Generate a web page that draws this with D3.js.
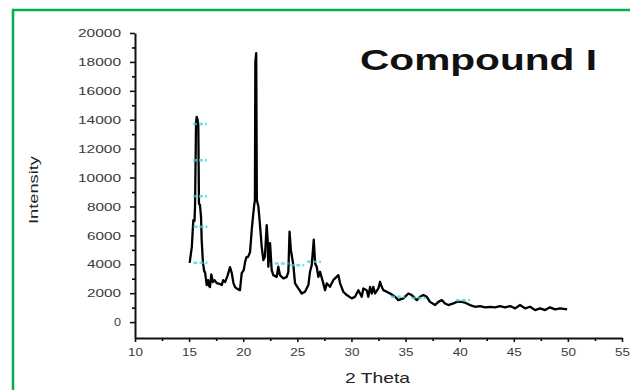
<!DOCTYPE html>
<html>
<head>
<meta charset="utf-8">
<script src="https://cdn.jsdelivr.net/npm/d3@7"></script>
<style>
  html, body { margin: 0; padding: 0; background: #fff; }
  svg { display: block; }
</style>
</head>
<body>
<figure id="xrd" style="margin:0"></figure>
<script>
// XRD pattern
const theta = [15.05, 15.25, 15.39, 15.5, 15.55, 15.64, 15.7, 15.78, 15.85, 15.91, 16.0, 16.1, 16.16, 16.28, 16.4, 16.47, 16.63, 16.75, 16.85, 16.93,
  17.05, 17.2, 17.35, 17.55, 17.8, 18.01, 18.15, 18.32, 18.55, 18.78, 18.94, 19.1, 19.24, 19.45, 19.7, 19.86, 20.05, 20.17, 20.3, 20.44,
  20.63, 20.8, 20.9, 21.0, 21.08, 21.12, 21.2, 21.26, 21.4, 21.55, 21.71, 21.86, 22.0, 22.17, 22.26, 22.32, 22.48, 22.63, 22.78, 23.1,
  23.24, 23.4, 23.71, 24.02, 24.17, 24.28, 24.4, 24.48, 24.63, 24.79, 25.09, 25.41, 25.71, 26.02, 26.17, 26.33, 26.52, 26.64, 26.79, 26.94,
  27.1, 27.4, 27.56, 27.72, 28.02, 28.33, 28.48, 28.79, 28.95, 29.25, 29.57, 30.03, 30.33, 30.64, 30.95, 31.1, 31.41, 31.56, 31.72, 31.88,
  32.02, 32.18, 32.49, 32.64, 32.8, 32.95, 33.26, 33.57, 34.03, 34.33, 34.8, 35.26, 35.57, 36.04, 36.34, 36.65, 36.96, 37.26, 37.73, 38.03,
  38.35, 38.65, 38.96, 39.42, 39.73, 40.19, 40.5, 40.96, 41.42, 41.89, 42.35, 42.81, 43.27, 43.73, 44.2, 44.66, 45.12, 45.58, 46.04, 46.51,
  46.97, 47.43, 47.89, 48.35, 48.81, 49.28, 49.93];
const intensity = [4100, 5200, 7060, 7000, 8100, 13800, 14200, 14000, 13600, 8200, 8100, 7300, 5700, 4100, 3500, 3460, 2560, 2900, 2500, 2420,
  3300, 2770, 2900, 2700, 2650, 2560, 2900, 2770, 3200, 3800, 3390, 2700, 2420, 2300, 2210, 3390, 3600, 4150, 4500, 4500,
  4840, 6500, 7270, 8000, 8440, 18000, 18600, 8440, 8000, 6710, 5210, 4290, 4500, 6710, 5670, 3830, 5470, 3600, 3250, 3130,
  3830, 3250, 3020, 3130, 3480, 6250, 5000, 4640, 3940, 2680, 2330, 1980, 2100, 2560, 3480, 3940, 5700, 4060, 3830, 3130,
  3480, 2680, 2210, 2680, 2440, 2910, 3020, 3250, 2680, 2100, 1870, 1640, 1750, 2210, 1750, 2330, 2210, 1750, 2440, 1980,
  2440, 1980, 2330, 2790, 2440, 2210, 2100, 1980, 1750, 1520, 1640, 1980, 1870, 1520, 1750, 1870, 1750, 1400, 1180, 1400,
  1520, 1290, 1180, 1290, 1400, 1400, 1340, 1180, 1060, 1110, 1020, 1060, 1020, 1110, 1020, 1110, 950, 1180, 950, 1060,
  830, 950, 830, 1020, 880, 950, 880];

// faint cyan marks sitting on the pattern
const markTheta = [16.0, 16.0, 16.0, 16.05, 16.05, 23.56, 25.0, 26.55, 34.3, 36.2, 40.3];
const markIntensity = [13700, 11200, 8700, 6600, 4100, 4060, 3940, 4170, 1750, 1660, 1520];

const xTicks = [10, 15, 20, 25, 30, 35, 40, 45, 50, 55];
const yTicks = [0, 2000, 4000, 6000, 8000, 10000, 12000, 14000, 16000, 18000, 20000];

const width = 630, height = 390;

const svg = d3.select('figure#xrd')
  .append('svg')
  .attr('width', width)
  .attr('height', height);

svg.append('rect').attr('width', width).attr('height', height).attr('fill', '#fff');

// green frame (only left and top show)
svg.append('path')
  .attr('d', 'M13,390 V10 H630')
  .attr('fill', 'none')
  .attr('stroke', '#00b050')
  .attr('stroke-width', 2.5);

const x = d3.scaleLinear().domain([10, 55]).range([135, 622]);
const y = d3.scaleLinear().domain([-1100, 20000]).range([338, 33]);

// minor ticks first
svg.append('g')
  .attr('transform', 'translate(0,338)')
  .call(d3.axisBottom(x).tickValues(d3.range(12.5, 55, 5)).tickSize(3).tickFormat(''))
  .call(g => g.select('.domain').remove())
  .selectAll('line').attr('stroke-width', 1.6);
svg.append('g')
  .attr('transform', 'translate(135,0)')
  .call(d3.axisLeft(y).tickValues(d3.range(1000, 20000, 2000)).tickSize(3).tickFormat(''))
  .call(g => g.select('.domain').remove())
  .selectAll('line').attr('stroke-width', 1.6);

const xAxis = svg.append('g')
  .attr('transform', 'translate(0,338)')
  .call(d3.axisBottom(x).tickValues(xTicks).tickSize(4).tickSizeOuter(0).tickPadding(6));
const yAxis = svg.append('g')
  .attr('transform', 'translate(135,0)')
  .call(d3.axisLeft(y).tickValues(yTicks).tickSize(5).tickSizeOuter(0).tickPadding(9).tickFormat(d3.format('d')));

[xAxis, yAxis].forEach(g => {
  g.select('.domain').attr('stroke', '#111').attr('stroke-width', 2);
  g.selectAll('.tick line').attr('stroke', '#111').attr('stroke-width', 1.6);
  g.selectAll('.tick text')
    .style('font-family', 'Liberation Sans, Arial, sans-serif')
    .style('font-size', '11.5px')
    .attr('fill', '#3a3a3a');
});
yAxis.selectAll('.tick text')
  .attr('textLength', d => String(d).length * 9 - 2)
  .attr('lengthAdjust', 'spacingAndGlyphs');
xAxis.selectAll('.tick text')
  .attr('textLength', d => String(d).length * 8 - 1)
  .attr('lengthAdjust', 'spacingAndGlyphs');

// pattern
const pts = theta.map((t, i) => [t, intensity[i]]);
svg.append('path')
  .datum(pts)
  .attr('fill', 'none')
  .attr('stroke', '#000')
  .attr('stroke-width', 2.3)
  .attr('stroke-linejoin', 'round')
  .attr('d', d3.line().x(d => x(d[0])).y(d => y(d[1])));

svg.selectAll('line.mark')
  .data(markTheta.map((t, i) => [t, markIntensity[i]]))
  .enter()
  .append('line')
  .attr('class', 'mark')
  .attr('x1', d => x(d[0]) - 7)
  .attr('x2', d => x(d[0]) + 7)
  .attr('y1', d => y(d[1]))
  .attr('y2', d => y(d[1]))
  .attr('stroke', '#3fd6d6')
  .attr('stroke-opacity', 0.75)
  .attr('stroke-width', 2.5)
  .attr('stroke-dasharray', '4,2');

// texts
svg.append('text')
  .attr('x', 360).attr('y', 70)
  .attr('textLength', 237).attr('lengthAdjust', 'spacingAndGlyphs')
  .style('font-family', 'Liberation Sans, Arial, sans-serif')
  .style('font-weight', 'bold')
  .style('font-size', '30px')
  .attr('fill', '#111')
  .text('Compound I');

svg.append('text')
  .attr('transform', 'translate(38,190) rotate(-90)')
  .attr('text-anchor', 'middle')
  .attr('textLength', 68).attr('lengthAdjust', 'spacingAndGlyphs')
  .style('font-family', 'Liberation Sans, Arial, sans-serif')
  .style('font-size', '12px')
  .attr('fill', '#222')
  .text('Intensity');

svg.append('text')
  .attr('x', 345).attr('y', 383)
  .attr('textLength', 65).attr('lengthAdjust', 'spacingAndGlyphs')
  .style('font-family', 'Liberation Sans, Arial, sans-serif')
  .style('font-size', '15px')
  .attr('fill', '#222')
  .text('2 Theta');
</script>
</body>
</html>
